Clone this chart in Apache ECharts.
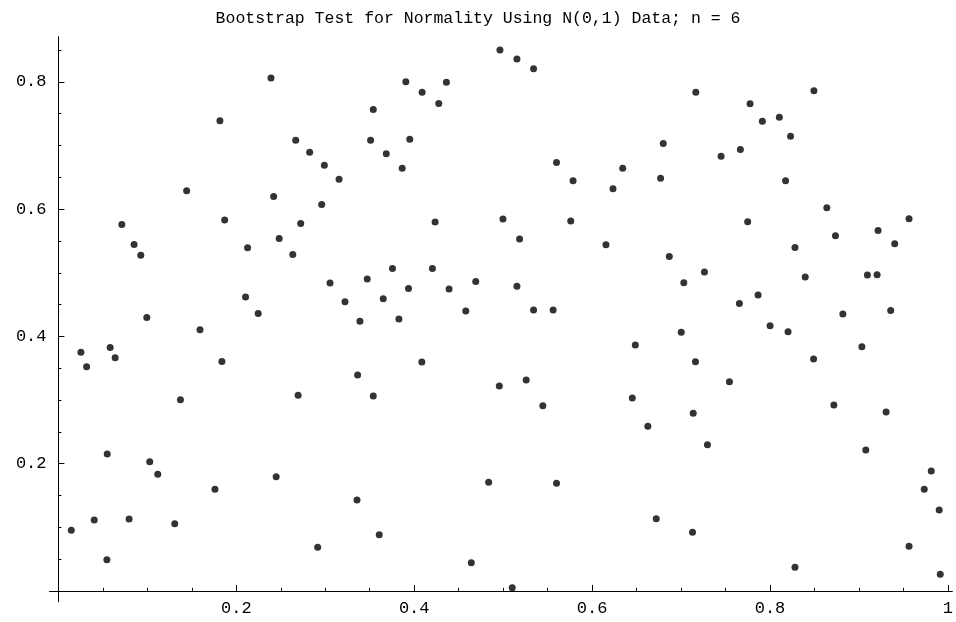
<!DOCTYPE html>
<html>
<head>
<meta charset="utf-8">
<title>Bootstrap Test for Normality</title>
<script src="https://cdn.jsdelivr.net/npm/echarts@6/dist/echarts.min.js"></script>
<style>
html, body { margin: 0; padding: 0; background: #fff; }
#chart { width: 956px; height: 622px; }
</style>
</head>
<body>
<div id="chart"></div>
<script>
// values
var xValues = [
    0.239, 0.1816, 0.1442, 0.242, 0.1869, 0.0713,
    0.4964, 0.3906, 0.4362, 0.4089, 0.4276, 0.354, 0.2668, 0.351, 0.395, 0.2825, 0.3686, 0.299, 0.3865, 0.3155, 0.296, 0.2724, 0.4235, 0.4998,
    0.5155, 0.5342, 0.7166, 0.680, 0.745, 0.560, 0.6344, 0.5786, 0.677, 0.6235, 0.576,
    0.8494, 0.7776, 0.8105, 0.7914, 0.8231, 0.7667, 0.8175, 0.8639, 0.7749, 0.9563,
    0.0851, 0.0926, 0.2482, 0.2127, 0.2104, 0.2246, 0.0994, 0.1592, 0.0582, 0.0253, 0.0638, 0.0317, 0.1838, 0.1372,
    0.2635, 0.3756, 0.4205, 0.3054, 0.3472, 0.3936, 0.4692, 0.4392, 0.3222, 0.3652, 0.458, 0.339, 0.3828, 0.4086, 0.3364, 0.4957, 0.2695, 0.354,
    0.5185, 0.6156, 0.6868, 0.7263, 0.7031, 0.5155, 0.5342, 0.5562, 0.7002, 0.6486, 0.7162, 0.5259, 0.7544, 0.6452, 0.5446, 0.7137,
    0.8736, 0.9215, 0.9402, 0.8281, 0.8396, 0.9095, 0.9204, 0.7866, 0.7656, 0.8819, 0.9357, 0.8001, 0.8203, 0.9033, 0.849, 0.8718, 0.9305,
    0.0549, 0.1027, 0.1117, 0.2448, 0.176, 0.0403, 0.0795, 0.0145, 0.1308, 0.0545,
    0.2915, 0.3357, 0.3607, 0.4642, 0.4837,
    0.5102, 0.560, 0.6627, 0.7297, 0.6721, 0.7129,
    0.9077, 0.9813, 0.9734, 0.9902, 0.9563, 0.8281, 0.9914
];
var yValues = [
    0.806, 0.739, 0.629, 0.620, 0.583, 0.576,
    0.850, 0.800, 0.7995, 0.7838, 0.766, 0.7566, 0.7084, 0.7084, 0.710, 0.6895, 0.6869, 0.669, 0.6644, 0.647, 0.6074, 0.5775, 0.5796, 0.5843,
    0.836, 0.8205, 0.7838, 0.7032, 0.6833, 0.6734, 0.6644, 0.6445, 0.6487, 0.6319, 0.5812,
    0.786, 0.7655, 0.7445, 0.7383, 0.7147, 0.6938, 0.6445, 0.602, 0.580, 0.5848,
    0.5445, 0.5277, 0.554, 0.5392, 0.4617, 0.4361, 0.4298, 0.4104, 0.3827, 0.3749, 0.3664, 0.3522, 0.3607, 0.3004,
    0.5288, 0.5068, 0.5068, 0.4837, 0.490, 0.4754, 0.4864, 0.4743, 0.4544, 0.4591, 0.4397, 0.4236, 0.4272, 0.3596, 0.3392, 0.3219, 0.3073, 0.3062,
    0.5529, 0.5439, 0.5257, 0.501, 0.4842, 0.4786, 0.4413, 0.4413, 0.4063, 0.3863, 0.3601, 0.3313, 0.3287, 0.3031, 0.291, 0.279,
    0.558, 0.5665, 0.5455, 0.5398, 0.4932, 0.4963, 0.4968, 0.4649, 0.4518, 0.435, 0.4408, 0.4167, 0.4072, 0.3837, 0.3643, 0.2921, 0.281,
    0.2151, 0.203, 0.1832, 0.1794, 0.1596, 0.1114, 0.113, 0.0952, 0.1056, 0.049,
    0.0685, 0.1428, 0.0883, 0.0443, 0.1706,
    0.005, 0.169, 0.2586, 0.2297, 0.1134, 0.0921,
    0.2214, 0.1884, 0.1596, 0.1271, 0.0701, 0.0371, 0.0261
];

var xMajorTicks = [0.2, 0.4, 0.6, 0.8, 1];
var xMinorTicks = [0.05, 0.1, 0.15, 0.25, 0.3, 0.35, 0.45, 0.5, 0.55, 0.65, 0.7, 0.75, 0.85, 0.9, 0.95];
var yMajorTicks = [0.2, 0.4, 0.6, 0.8];
var yMinorTicks = [0.05, 0.1, 0.15, 0.25, 0.3, 0.35, 0.45, 0.5, 0.55, 0.65, 0.7, 0.75, 0.85];

var titleText = 'Bootstrap Test for Normality Using N(0,1) Data; n = 6';

var points = [];
for (var i = 0; i < xValues.length; i++) {
    points.push([xValues[i], yValues[i]]);
}

var font = 'Liberation Mono';
var xMin = -0.01, xMax = 1.005;
var yMin = -0.017, yMax = 0.871;

function fmt(v) {
    return String(+v.toFixed(2));
}

var myChart = echarts.init(document.getElementById('chart'));
var option = {
    animation: false,
    backgroundColor: '#fff',
    title: {
        text: titleText,
        left: 'center',
        top: 5,
        textStyle: { fontFamily: font, fontSize: 16.5, fontWeight: 'normal', color: '#000' }
    },
    grid: { left: 49.5, right: 1.5, top: 36.7, bottom: 20.3, containLabel: false },
    xAxis: [
        {
            type: 'value', min: xMin, max: xMax, position: 'bottom',
            axisLine: { show: true, onZero: true, onZeroAxisIndex: 0, lineStyle: { color: '#000', width: 1 } },
            axisTick: { show: true, inside: true, length: 6, customValues: xMajorTicks, lineStyle: { color: '#000' } },
            axisLabel: { show: true, margin: -2, customValues: xMajorTicks, formatter: fmt,
                fontFamily: font, fontSize: 17, color: '#000' },
            splitLine: { show: false }
        },
        {
            type: 'value', min: xMin, max: xMax, position: 'bottom',
            axisLine: { show: false, onZero: true, onZeroAxisIndex: 0 },
            axisTick: { show: true, inside: true, length: 3, customValues: xMinorTicks, lineStyle: { color: '#000' } },
            axisLabel: { show: false },
            splitLine: { show: false }
        }
    ],
    yAxis: [
        {
            type: 'value', min: yMin, max: yMax, position: 'left',
            axisLine: { show: true, onZero: true, onZeroAxisIndex: 0, lineStyle: { color: '#000', width: 1 } },
            axisTick: { show: true, inside: true, length: 6, customValues: yMajorTicks, lineStyle: { color: '#000' } },
            axisLabel: { show: true, margin: 3, customValues: yMajorTicks, formatter: fmt,
                fontFamily: font, fontSize: 17, color: '#000' },
            splitLine: { show: false }
        },
        {
            type: 'value', min: yMin, max: yMax, position: 'left',
            axisLine: { show: false, onZero: true, onZeroAxisIndex: 0 },
            axisTick: { show: true, inside: true, length: 3, customValues: yMinorTicks, lineStyle: { color: '#000' } },
            axisLabel: { show: false },
            splitLine: { show: false }
        }
    ],
    series: [
        {
            name: 'bootstrap',
            type: 'scatter',
            xAxisIndex: 0,
            yAxisIndex: 0,
            symbol: 'circle',
            symbolSize: 7,
            itemStyle: { color: '#000' },
            data: points
        }
    ]
};
myChart.setOption(option);
</script>
</body>
</html>
